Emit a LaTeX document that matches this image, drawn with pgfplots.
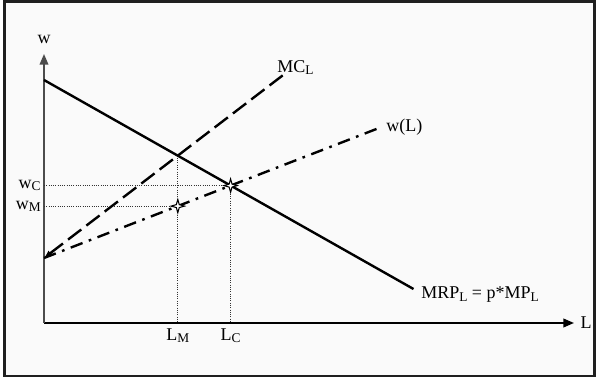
\documentclass[border=0pt]{standalone}
\usepackage{pgfplots}
\pgfplotsset{compat=1.18}
\usepackage{fontspec}
\setmainfont{Liberation Serif}
\usetikzlibrary{arrows.meta}

\pgfdeclareplotmark{star4}{%
 \pgfpathmoveto{\pgfqpoint{0pt}{\pgfplotmarksize}}%
 \pgfpathlineto{\pgfqpoint{0.22\pgfplotmarksize}{0.22\pgfplotmarksize}}%
 \pgfpathlineto{\pgfqpoint{\pgfplotmarksize}{0pt}}%
 \pgfpathlineto{\pgfqpoint{0.22\pgfplotmarksize}{-0.22\pgfplotmarksize}}%
 \pgfpathlineto{\pgfqpoint{0pt}{-\pgfplotmarksize}}%
 \pgfpathlineto{\pgfqpoint{-0.22\pgfplotmarksize}{-0.22\pgfplotmarksize}}%
 \pgfpathlineto{\pgfqpoint{-\pgfplotmarksize}{0pt}}%
 \pgfpathlineto{\pgfqpoint{-0.22\pgfplotmarksize}{0.22\pgfplotmarksize}}%
 \pgfpathclose
 \pgfusepathqfillstroke}

\newcommand{\sub}[1]{\raisebox{-0.25ex}{\fontsize{10}{11}\selectfont #1}}

\begin{document}
\begin{tikzpicture}[font=\fontsize{13.5}{15}\selectfont]
\begin{scope}[x=0.75pt,y=0.75pt]
\path (-44,-59) rectangle (556,323);
\fill[white] (-44,-59) rectangle (556,323);
\draw[line width=2.2pt, fill=black!2, draw=black!88] (-39.5,-53) rectangle (550.5,321.5);
\end{scope}
\begin{axis}[
  anchor=origin, at={(0,0)},
  x=0.75pt, y=0.75pt,
  xmin=0, xmax=530, ymin=0, ymax=269,
  axis lines=left,
  x axis line style={line width=1.4pt, black, -{Triangle[length=8pt,width=6.5pt]}},
  y axis line style={line width=1.2pt, black!70, -{Triangle[length=8pt,width=6.5pt]}},
  major tick length=0pt,
  xtick={133.8,186.6},
  xticklabels={L\sub{M}, L\sub{C}},
  ytick={116.9,137.4},
  yticklabels={w\sub{M}, w\sub{C}},
  ticklabel style={font=\fontsize{13.5}{15}\selectfont},
  xticklabel style={yshift=-1pt},
  yticklabel style={xshift=1pt},
  clip=false,
]
% dotted guide lines
\addplot[black!80, line width=0.7pt, densely dotted] coordinates {(0,137.4) (186.6,137.4) (186.6,0)};
\addplot[black!80, line width=0.7pt, densely dotted] coordinates {(0,116.9) (133.8,116.9)};
\addplot[black!80, line width=0.7pt, densely dotted] coordinates {(133.8,167.3) (133.8,0)};
% MRP
\addplot[black, line width=1.8pt] coordinates {(0,243) (369.5,34)};
% MC_L
\addplot[black, line width=1.8pt, dash pattern=on 12.5pt off 4.8pt, {Latex[length=6pt,width=5pt]}-] coordinates {(0,65) (238.7,247.6)};
% w(L)
\addplot[black, line width=1.8pt, dash pattern=on 9.5pt off 5pt on 2pt off 5pt] coordinates {(0,65) (336.8,195.7)};
% equilibrium points
\addplot[only marks, mark=star4, mark size=5pt, mark options={fill=white, draw=black, line width=0.8pt}] coordinates {(133.8,116.9) (186.6,137.4)};
% labels
\node[anchor=south] at (axis cs:0,275) {w};
\node[anchor=west] at (axis cs:532,0) {L};
\node[anchor=west, inner sep=0pt] at (axis cs:233,255) {MC\sub{L}};
\node[anchor=west, inner sep=0pt] at (axis cs:342,196) {w(L)};
\node[anchor=west, inner sep=0pt] at (axis cs:377,28) {MRP\sub{L} = p*MP\sub{L}};
\end{axis}
\end{tikzpicture}
\end{document}
